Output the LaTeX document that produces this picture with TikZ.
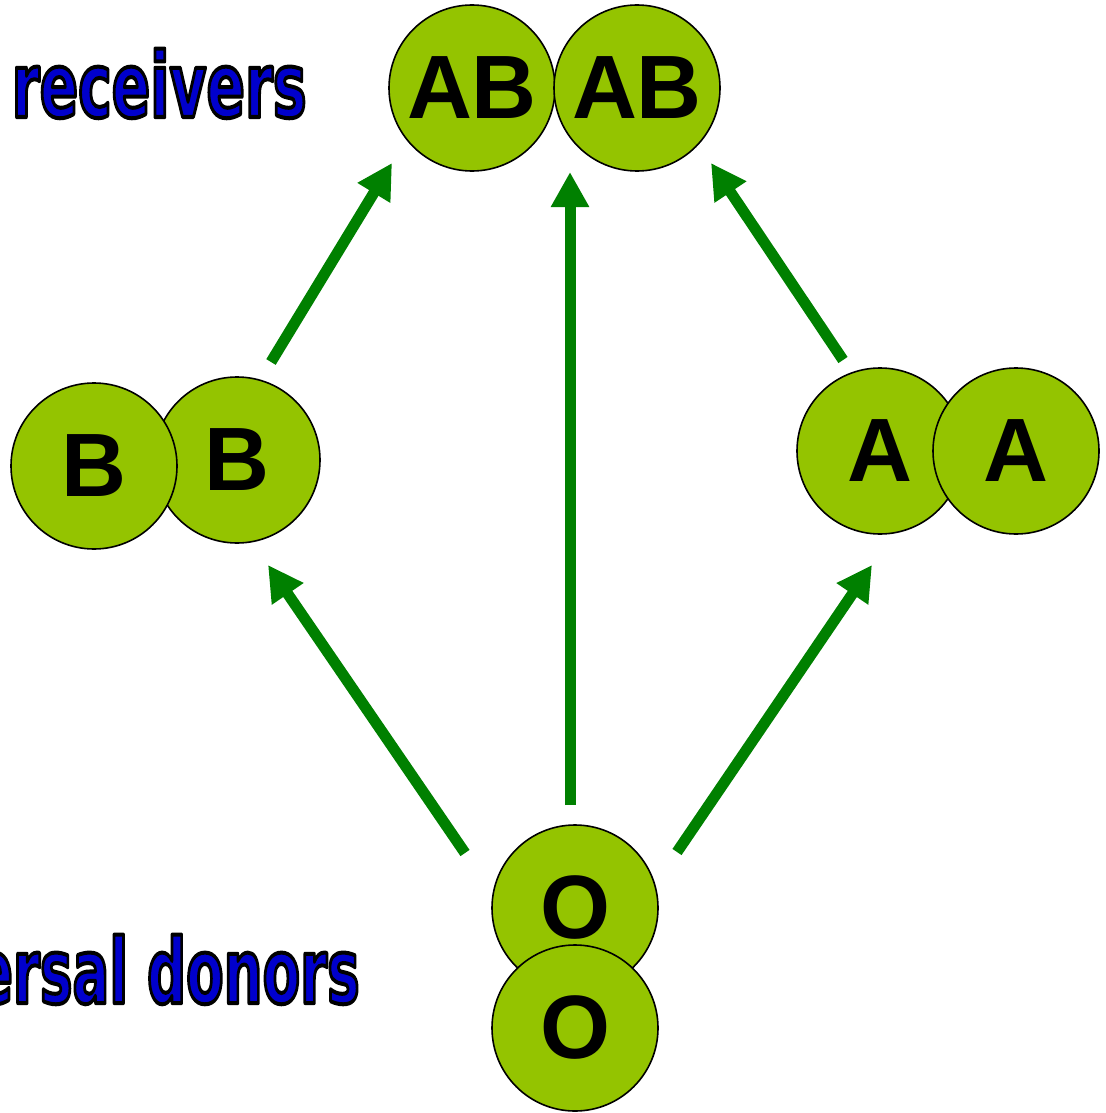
\documentclass[tikz,border=0pt]{standalone}
\usepackage{fontspec}
\setmainfont{Liberation Sans}
\newfontfamily\labelfont{DejaVu Sans Condensed}
\usetikzlibrary{arrows.meta}
\definecolor{cellgreen}{RGB}{148,196,0}
\definecolor{arrowgreen}{RGB}{0,128,0}
\definecolor{titleblue}{RGB}{0,0,204}
\newcommand{\outlinedtext}[1]{\special{pdf:literal direct 0 0 0 RG 4 w 1 j 2 Tr}#1\special{pdf:literal direct 0 Tr}}
\tikzset{
  cell/.style={circle, draw=black, line width=1.6pt, fill=cellgreen, minimum size=166pt, inner sep=0pt,
    font=\fontsize{90}{90}\selectfont\bfseries, text=black},
  flow/.style={draw=arrowgreen, line width=11pt, -{Triangle[width=36pt,length=35pt]}},
  title/.style={anchor=base east, inner sep=0pt, text=titleblue,
    font=\fontsize{90}{90}\labelfont\bfseries}
}
\begin{document}
\begin{tikzpicture}[x=1pt,y=-1pt]
\useasboundingbox (0,0) rectangle (1105,1113);
\clip (0,0) rectangle (1105,1113);
% titles
\node[title] (recv) at (307,117) {\scalebox{0.7}[1]{\outlinedtext{Universal receivers}}};
\node[title] (donr) at (360,1003) {\scalebox{0.675}[1]{\outlinedtext{Universal donors}}};
% cells
\node[cell] (ab1) at (472,88) {AB};
\node[cell] (ab2) at (637,88) {AB};
\node[cell] (b2) at (237,460) {B};
\node[cell] (b1) at (94,466) {B};
\node[cell] (a1) at (880,451) {A};
\node[cell] (a2) at (1016,451) {A};
\node[cell] (o1) at (575,908) {O};
\node[cell] (o2) at (575,1028) {O};
% arrow ends
\coordinate (s1) at (271,362); \coordinate (t1) at (392,163);
\coordinate (s2) at (570,805); \coordinate (t2) at (570,172);
\coordinate (s3) at (843,360); \coordinate (t3) at (711,163);
\coordinate (s4) at (465,853); \coordinate (t4) at (268,565);
\coordinate (s5) at (677,852); \coordinate (t5) at (872,565);
\draw[flow] (s1) -- (t1);
\draw[flow] (s2) -- (t2);
\draw[flow] (s3) -- (t3);
\draw[flow] (s4) -- (t4);
\draw[flow] (s5) -- (t5);
\end{tikzpicture}
\end{document}
